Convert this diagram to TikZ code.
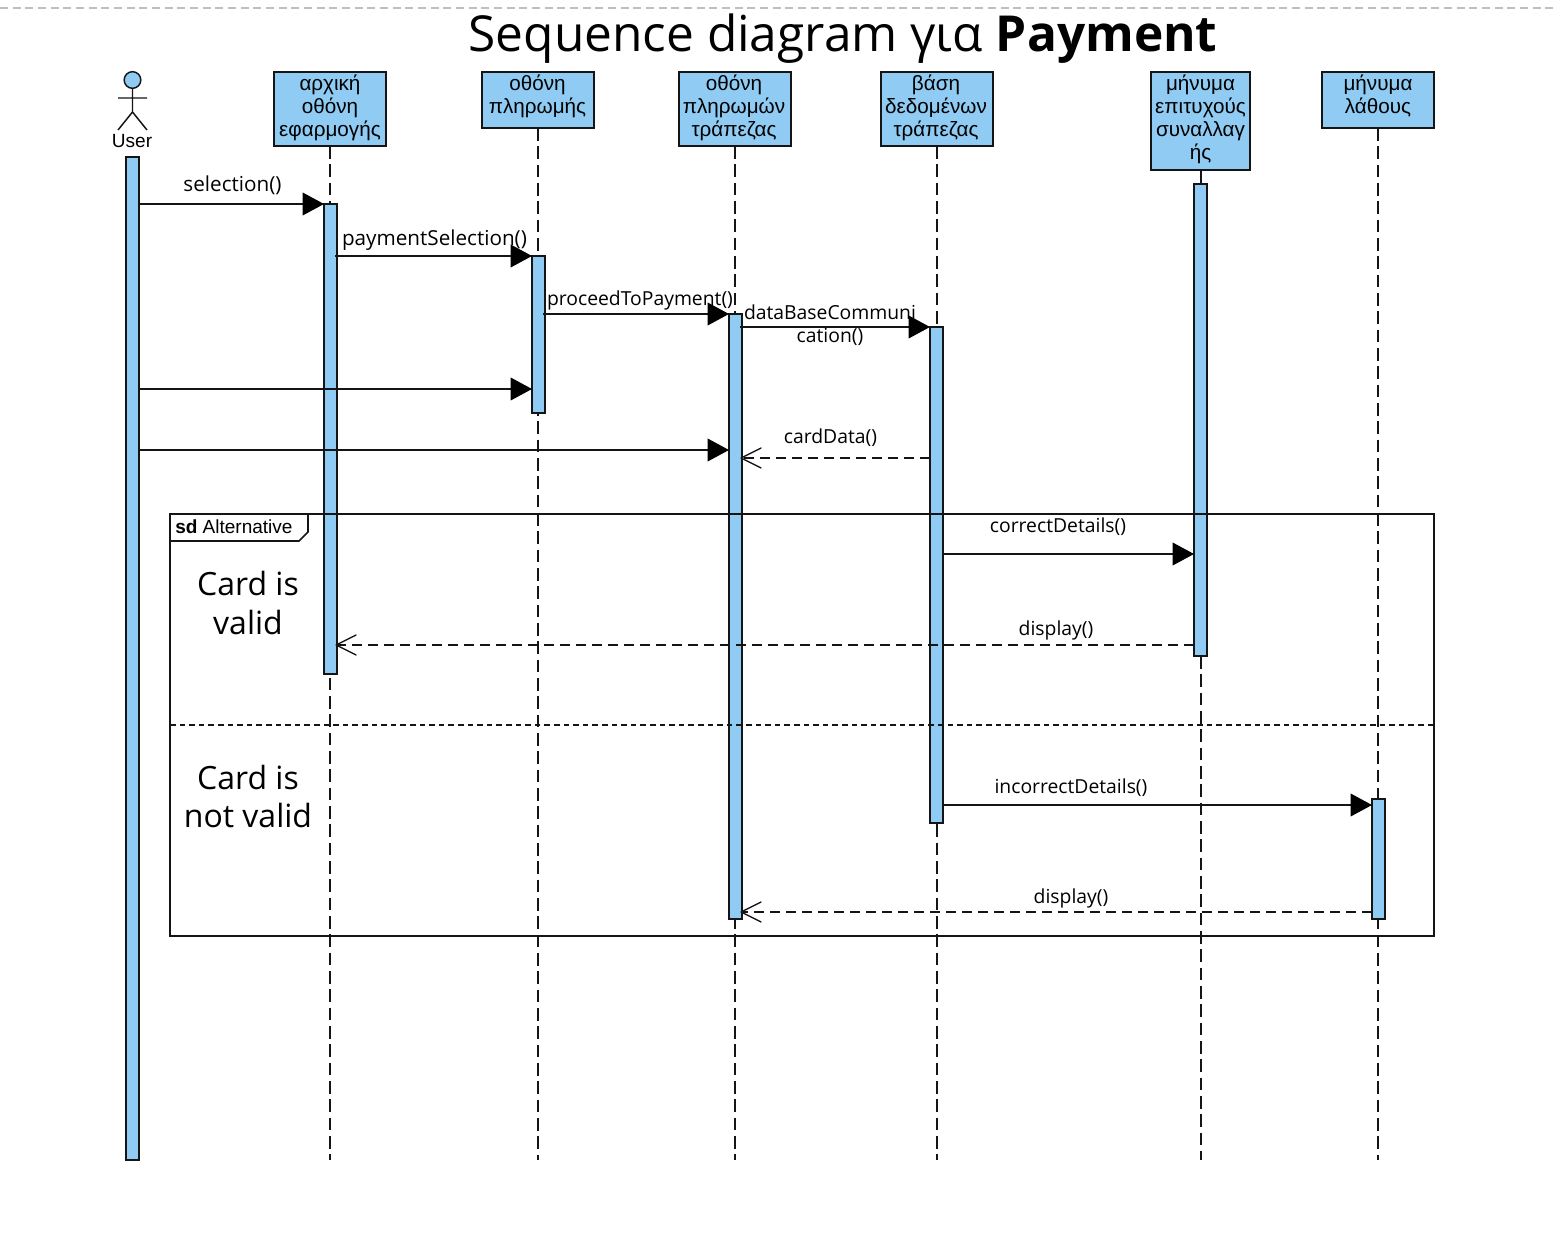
\documentclass[tikz,border=0pt]{standalone}
\usepackage{fontspec}
\setmainfont{Open Sans}
\newfontfamily\arialfont{Liberation Sans}
\usetikzlibrary{arrows.meta}
\definecolor{barblue}{HTML}{8FCBF2}
\definecolor{edge}{HTML}{151515}
\tikzset{
  x=0.75pt,y=-0.75pt,
  box/.style={draw=edge,fill=barblue,line width=1.4pt,inner sep=0pt,outer sep=0pt,anchor=north west},
  boxtext/.style={align=center,inner sep=0pt,anchor=north,font=\arialfont\fontsize{15.5}{17.25}\selectfont},
  lifeline/.style={draw=edge,line width=1.1pt,dash pattern=on 9.5pt off 4.25pt},
  msg/.style={draw=edge,line width=1.1pt,-{Triangle[length=16pt,width=17pt,fill=black,color=black]}},
  reply/.style={draw=edge,line width=1.1pt,dash pattern=on 7.5pt off 4.5pt,shorten >=-1.2pt,-{Straight Barb[length=15pt,width=15pt,line width=1pt,round=false]}},
  msglabel/.style={inner sep=0pt,font=\fontsize{14.5}{17.5}\selectfont,align=center},
  msglabelbig/.style={inner sep=0pt,font=\fontsize{15.5}{18}\selectfont,align=center},
  guard/.style={inner sep=0pt,font=\fontsize{24}{29}\selectfont,align=center},
}
\newcommand{\actbar}[5]{\node[box,minimum width=#4*0.75pt,minimum height=#5*0.75pt] (#1) at (#2,#3) {};}
\begin{document}
\begin{tikzpicture}
\useasboundingbox (0,0) rectangle (1556,1248);
\fill[white] (0,0) rectangle (1556,1248);
\coordinate (tl) at (0,8); \coordinate (tr) at (1556,8);
\draw[color=black!25,line width=0.9pt,dash pattern=on 6pt off 3.5pt] (tl) -- (tr);
\node[inner sep=0pt,font=\fontsize{37.2}{45}\selectfont] (title) at (843,39) {Sequence diagram για \textbf{Payment}};

% header boxes
\actbar{h1}{274}{72}{112}{74}
\actbar{h2}{482}{72}{112}{56}
\actbar{h3}{679}{72}{112}{74}
\actbar{h4}{881}{72}{112}{74}
\actbar{h5}{1151}{72}{99}{98}
\actbar{h6}{1322}{72}{112}{56}
\node[boxtext] (t1) at (330,74.5) {αρχική\\οθόνη\\εφαρμογής};
\node[boxtext] (t2) at (537.5,74.5) {οθόνη\\πληρωμής};
\node[boxtext] (t3) at (734,74.5) {οθόνη\\πληρωμών\\τράπεζας};
\node[boxtext] (t4) at (936,74.5) {βάση\\δεδομένων\\τράπεζας};
\node[boxtext] (t5) at (1200.5,74.5) {μήνυμα\\επιτυχούς\\συναλλαγ\\ής};
\node[boxtext] (t6) at (1378,74.5) {μήνυμα\\λάθους};

% lifeline ends
\coordinate (e1) at (330,1160);
\coordinate (e2) at (538,1160);
\coordinate (e3) at (735,1160);
\coordinate (e4) at (937,1160);
\coordinate (e5) at (1201,1160);
\coordinate (e6) at (1378,1160);
\draw[lifeline] (h1.south -| e1) -- (e1);
\draw[lifeline] (h2.south -| e2) -- (e2);
\draw[lifeline] (h3.south -| e3) -- (e3);
\draw[lifeline] (h4.south -| e4) -- (e4);
\draw[lifeline] (h6.south -| e6) -- (e6);

% activation bars
\actbar{u}{126}{157}{13}{1003}
\actbar{a1}{324}{204}{13}{470}
\actbar{a2}{532}{256}{13}{157}
\actbar{a3}{729}{314}{13}{605}
\actbar{a4}{930}{327}{13}{496}
\actbar{a5}{1194}{184}{13}{472}
\actbar{a6}{1372}{799}{13}{120}

% lifeline of the success message: short solid stub above its bar, dashed below
\draw[edge,line width=1.1pt] (h5.south -| e5) -- (a5.north -| e5);
\draw[lifeline] (a5.south -| e5) -- (e5);

% actor
\node[draw=edge,fill=barblue,circle,line width=1.1pt,minimum size=12.5pt,inner sep=0pt] (head) at (132.5,80) {};
\coordinate (hip) at (132.5,112);
\coordinate (armL) at (118,98); \coordinate (armR) at (147,98);
\coordinate (legL) at (118,130); \coordinate (legR) at (147,130);
\draw[edge,line width=1.1pt] (head.south) -- (hip) (armL) -- (armR) (legL) -- (hip) -- (legR);
\node[inner sep=0pt,font=\arialfont\fontsize{14.3}{18}\selectfont] (user) at (132,141) {User};

% frame
\coordinate (fA) at (170,514); \coordinate (fB) at (1434,936);
\draw[edge,line width=1.4pt] (fA) rectangle (fB);
\coordinate (tabA) at (308,514); \coordinate (tabB) at (308,532); \coordinate (tabC) at (299,541); \coordinate (tabD) at (170,541);
\draw[edge,line width=1.2pt] (tabA) -- (tabB) -- (tabC) -- (tabD);
\node[inner sep=0pt,anchor=west,font=\arialfont\fontsize{14.25}{17}\selectfont] (sd) at (175,527) {\textbf{sd} Alternative};
\coordinate (dA) at (170,725); \coordinate (dB) at (1434,725);
\draw[edge,line width=1pt,dash pattern=on 4.2pt off 3pt] (dA) -- (dB);
\node[guard] (g1) at (248,603) {Card is\\valid};
\node[guard] (g2) at (248,796.5) {Card is\\not valid};

% messages
\draw[msg] (u.east |- 0,204) -- (a1.west |- 0,204);
\draw[msg] ([xshift=-1.5pt]a1.east |- 0,256) -- (a2.west |- 0,256);
\draw[msg] ([xshift=-1.5pt]a2.east |- 0,314) -- (a3.west |- 0,314);
\draw[msg] ([xshift=-1.5pt]a3.east |- 0,327) -- (a4.west |- 0,327);
\draw[msg] (u.east |- 0,389) -- (a2.west |- 0,389);
\draw[msg] (u.east |- 0,450) -- (a3.west |- 0,450);
\draw[reply] (a4.west |- 0,458) -- (a3.east |- 0,458);
\draw[msg] (a4.east |- 0,554) -- (a5.west |- 0,554);
\draw[reply] (a5.west |- 0,645) -- (a1.east |- 0,645);
\draw[msg] (a4.east |- 0,805) -- (a6.west |- 0,805);
\draw[reply] (a6.west |- 0,912) -- (a3.east |- 0,912);

\node[msglabelbig] (m1) at (232.5,185) {selection()};
\node[msglabelbig] (m2) at (434.5,240) {paymentSelection()};
\node[msglabel] (m3) at (640,300) {proceedToPayment()};
\node[msglabel] (m4) at (830,325.5) {dataBaseCommuni\\cation()};
\node[msglabel] (m5) at (830.5,438) {cardData()};
\node[msglabel] (m6) at (1058,527) {correctDetails()};
\node[msglabel] (m7) at (1056,630) {display()};
\node[msglabel] (m8) at (1071,788) {incorrectDetails()};
\node[msglabel] (m9) at (1071,898) {display()};
\end{tikzpicture}
\end{document}
